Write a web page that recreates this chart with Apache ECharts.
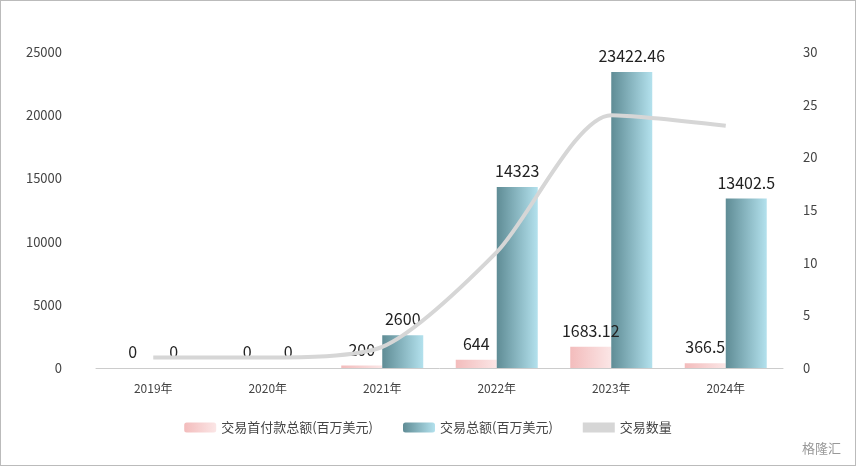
<!DOCTYPE html><html><head><meta charset="utf-8"><script src="https://cdn.jsdelivr.net/npm/echarts@6/dist/echarts.min.js"></script>
<style>html,body{margin:0;padding:0;background:#fff}#c{width:856px;height:466px;box-sizing:border-box;border:1px solid #bbb}</style></head><body><div id="c"></div><script>
const categories=['2019年','2020年','2021年','2022年','2023年','2024年'];
const downPayment=[0,0,200,644,1683.12,366.5];
const totalAmount=[0,0,2600,14323,23422.46,13402.5];
const dealCount=[1,1,2,11,24,23];
const leftTicks=[0,5000,10000,15000,20000,25000];
const c=echarts.init(document.getElementById('c'));
const font="'Noto Sans CJK SC',sans-serif";
c.setOption({
textStyle:{fontFamily:font},
grid:{left:95,right:72,top:51,bottom:97},
legend:{bottom:26,itemGap:30,itemWidth:32,itemHeight:10,textStyle:{fontSize:13,color:'#444'},
 data:[{name:'交易首付款总额(百万美元)'},{name:'交易总额(百万美元)'},{name:'交易数量',icon:'rect',itemStyle:{color:'#d6d6d6'}}]},
xAxis:{type:'category',data:categories,axisTick:{show:false},axisLine:{lineStyle:{color:'#ccc'}},axisLabel:{color:'#444',fontSize:12,margin:14}},
yAxis:[{type:'value',min:leftTicks[0],max:leftTicks[5],interval:5000,splitLine:{show:false},axisLabel:{color:'#444',fontSize:13,margin:34,formatter:v=>String(v)}},
 {type:'value',min:0,max:30,interval:5,splitLine:{show:false},axisLabel:{color:'#444',fontSize:13,margin:20}}],
graphic:[{type:'text',right:14,bottom:10,style:{text:'格隆汇',fill:'#999',font:'13px '+font}}],
series:[
{name:'交易首付款总额(百万美元)',type:'bar',data:downPayment,barWidth:41,barGap:'0%',
 itemStyle:{color:new echarts.graphic.LinearGradient(0,0,1,0,[{offset:0,color:'#f3bcbc'},{offset:1,color:'#fbe6e6'}])},
 label:{show:true,position:'top',fontSize:16,color:'#222',distance:8}},
{name:'交易总额(百万美元)',type:'bar',data:totalAmount,barWidth:41,
 itemStyle:{color:new echarts.graphic.LinearGradient(0,0,1,0,[{offset:0,color:'#5f8c95'},{offset:1,color:'#b3e1ed'}])},
 label:{show:true,position:'top',fontSize:16,color:'#222',distance:8}},
{name:'交易数量',type:'line',yAxisIndex:1,data:dealCount,smooth:0.25,showSymbol:false,symbol:'none',z:5,
 lineStyle:{color:'#d6d6d6',width:4},itemStyle:{color:'#d6d6d6'}}
]});
</script></body></html>
